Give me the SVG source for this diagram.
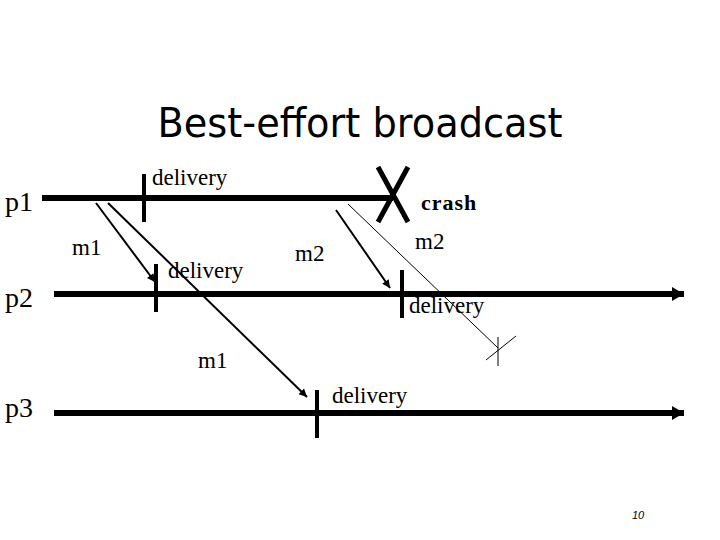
<svg xmlns="http://www.w3.org/2000/svg" width="720" height="540" viewBox="0 0 720 540">
<style>
.t{font-family:"Liberation Serif","Times New Roman",serif;fill:#000}
.big{font-size:28px}
.lab{font-size:23px}
.msg{font-size:23px}
.title{font-family:"DejaVu Sans",Verdana,sans-serif;font-size:41px;fill:#000}
.proc{stroke:#000;stroke-width:6;fill:none}
.tick{stroke:#000;stroke-width:4;fill:none}
.arr{stroke:#000;stroke-width:2;fill:none}
.thin{stroke:#000;stroke-width:1;fill:none}
</style>
<defs>
<marker id="ah" viewBox="0 0 10 10" refX="10" refY="5" markerWidth="10" markerHeight="8" markerUnits="userSpaceOnUse" orient="auto">
<path d="M0,0 L10,5 L0,10 z" fill="#000"/>
</marker>
<marker id="bh" viewBox="0 0 12 14" refX="12" refY="7" markerWidth="12" markerHeight="14" markerUnits="userSpaceOnUse" orient="auto">
<path d="M0,0 L12,7 L0,14 z" fill="#000"/>
</marker>
</defs>
<rect width="720" height="540" fill="#fff"/>
<text class="title" x="360" y="137" text-anchor="middle" textLength="405" lengthAdjust="spacingAndGlyphs">Best-effort broadcast</text>

<g id="p1">
<line class="proc" x1="42" y1="198" x2="393" y2="198"/>
<text class="t big" x="5" y="211">p1</text>
<line class="tick" x1="144" y1="174" x2="144" y2="222"/>
<text class="t lab" x="152" y="185">delivery</text>
<g id="crash">
<line x1="378" y1="167" x2="408" y2="222" stroke="#000" stroke-width="5"/>
<line x1="408" y1="167" x2="378" y2="222" stroke="#000" stroke-width="5"/>
<text class="t" x="421" y="210" font-size="22" font-weight="bold" letter-spacing="1">crash</text>
</g>
</g>

<g id="p2">
<line class="proc" x1="54" y1="294" x2="684" y2="294" marker-end="url(#bh)"/>
<text class="t big" x="5" y="307">p2</text>
<line class="tick" x1="156" y1="264" x2="156" y2="312"/>
<text class="t lab" x="168" y="278">delivery</text>
<line class="tick" x1="402" y1="270" x2="402" y2="318"/>
<text class="t lab" x="409" y="313">delivery</text>
</g>

<g id="p3">
<line class="proc" x1="54" y1="413" x2="684" y2="413" marker-end="url(#bh)"/>
<text class="t big" x="5" y="417">p3</text>
<line class="tick" x1="317" y1="390" x2="317" y2="438"/>
<text class="t lab" x="332" y="403">delivery</text>
</g>

<g id="connectors">
<line class="arr" x1="96" y1="203" x2="155" y2="282" marker-end="url(#ah)"/>
<line class="arr" x1="108" y1="203" x2="307" y2="397" marker-end="url(#ah)"/>
<line class="arr" x1="336" y1="210" x2="390" y2="288" marker-end="url(#ah)"/>
<line class="thin" x1="348" y1="204" x2="498" y2="348"/>
<line class="thin" x1="498" y1="337" x2="498" y2="366"/>
<line class="thin" x1="486" y1="360" x2="516" y2="336"/>
</g>

<g id="labels">
<text class="t msg" x="72" y="255">m1</text>
<text class="t msg" x="198" y="368">m1</text>
<text class="t msg" x="295" y="261">m2</text>
<text class="t msg" x="415" y="249">m2</text>
</g>
<text x="632" y="519" font-family="Liberation Sans,Arial,sans-serif" font-size="11" font-style="italic" fill="#000">10</text>
</svg>
